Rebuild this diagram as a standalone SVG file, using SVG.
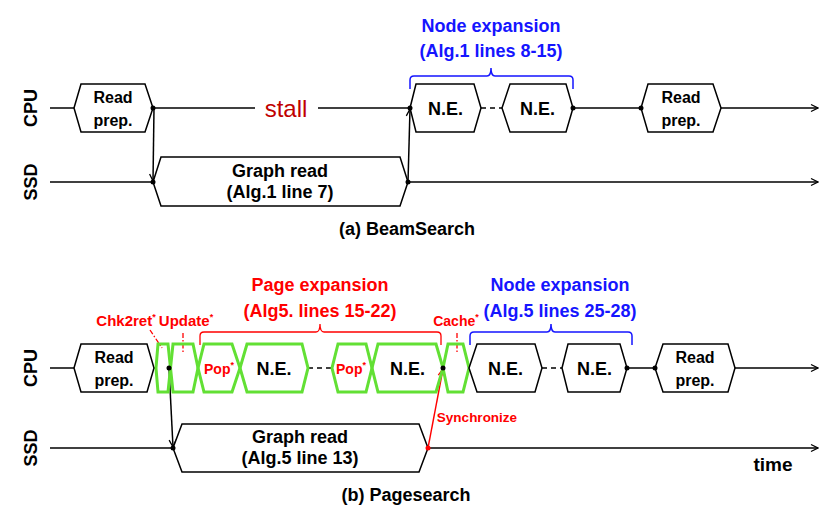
<svg xmlns="http://www.w3.org/2000/svg" width="830" height="521" viewBox="0 0 830 521">
<defs>
<marker id="ah" markerWidth="10" markerHeight="10" refX="9" refY="5" orient="auto" markerUnits="userSpaceOnUse"><path d="M2,1.5 L9,5 L2,8.5" fill="none" stroke="#000" stroke-width="1.3"/></marker>
<marker id="ahr" markerWidth="10" markerHeight="10" refX="9" refY="5" orient="auto" markerUnits="userSpaceOnUse"><path d="M2,1.5 L9,5 L2,8.5" fill="none" stroke="#FF0000" stroke-width="1.3"/></marker>
</defs>
<style>
.ln{stroke:#000;stroke-width:1.5;fill:none}
.ds{stroke:#000;stroke-width:1.5;fill:none;stroke-dasharray:5 4}
.hx{fill:#fff;stroke:#000;stroke-width:1.5}
.gr{fill:none;stroke:#62E034;stroke-width:3;stroke-linejoin:miter}
.t{font-family:"Liberation Sans",Arial,sans-serif;font-weight:bold;text-anchor:middle;fill:#000}
.s16{font-size:16px}
.s18{font-size:18px}
.red{fill:#FF0000}
.blue{fill:#1515FF}
.sup{font-size:9px}
.dot{fill:#000}
.rdash{stroke:#FF0000;stroke-width:1.3;fill:none;stroke-dasharray:5 2 1.5 2}
</style>

<g id="labels">
<text class="t s18" transform="translate(37,108) rotate(-90)">CPU</text>
<text class="t s18" transform="translate(37,182) rotate(-90)">SSD</text>
<text class="t s18" transform="translate(37,368) rotate(-90)">CPU</text>
<text class="t s18" transform="translate(37,448) rotate(-90)">SSD</text>
</g>

<g id="connectors">
<!-- top CPU -->
<line class="ln" x1="50" y1="108" x2="74" y2="108"/>
<line class="ln" x1="153" y1="108" x2="255" y2="108"/>
<line class="ln" x1="318" y1="108" x2="410" y2="108"/>
<line class="ds" x1="481" y1="108" x2="502" y2="108"/>
<line class="ln" x1="573" y1="108" x2="641" y2="108"/>
<line class="ln" x1="721" y1="108" x2="818" y2="108" marker-end="url(#ah)"/>
<!-- top SSD -->
<line class="ln" x1="50" y1="182" x2="153" y2="182"/>
<line class="ln" x1="408" y1="182" x2="818" y2="182" marker-end="url(#ah)"/>
<line class="ln" x1="154" y1="108" x2="153" y2="181" marker-end="url(#ah)"/>
<line class="ln" x1="408" y1="182" x2="410" y2="109" marker-end="url(#ah)"/>
<!-- bottom CPU -->
<line class="ln" x1="50" y1="368" x2="74" y2="368"/>
<line class="ln" x1="154" y1="368" x2="156" y2="368"/>
<line class="ds" x1="308" y1="368" x2="332" y2="368"/>
<line class="ds" x1="542" y1="368" x2="562" y2="368"/>
<line class="ln" x1="627" y1="368" x2="655" y2="368"/>
<line class="ln" x1="735" y1="368" x2="818" y2="368" marker-end="url(#ah)"/>
<!-- bottom SSD -->
<line class="ln" x1="50" y1="448" x2="173" y2="448"/>
<line class="ln" x1="428" y1="448" x2="818" y2="448" marker-end="url(#ah)"/>
<line class="ln" x1="169" y1="368" x2="173" y2="447" marker-end="url(#ah)"/>
<line x1="428" y1="448" x2="443" y2="369" stroke="#FF0000" stroke-width="1.4" marker-end="url(#ahr)"/>
<!-- braces -->
<path d="M410,89 L410,80 Q410,76 414,76 L487,76 Q491,76 491,68 Q491,76 495,76 L569,76 Q573,76 573,80 L573,89" fill="none" stroke="#1515FF" stroke-width="1.5"/>
<path d="M200,345 L200,336 Q200,332 204,332 L316,332 Q320,332 320,324 Q320,332 324,332 L437,332 Q441,332 441,336 L441,345" fill="none" stroke="#FF0000" stroke-width="1.3"/>
<path d="M470,345 L470,336 Q470,332 474,332 L547,332 Q551,332 551,324 Q551,332 555,332 L628,332 Q632,332 632,336 L632,345" fill="none" stroke="#1515FF" stroke-width="1.5"/>
<!-- red dashed pointers -->
<line class="rdash" x1="150" y1="330" x2="162" y2="348"/>
<line class="rdash" x1="183" y1="333" x2="183" y2="354"/>
<line class="rdash" x1="457" y1="333" x2="457" y2="354"/>
</g>

<g id="readprep-a1"><polygon class="hx" points="74,108 81,84 145,84 153,108 145,132 81,132"/>
<text class="t s16" x="113" y="103">Read</text><text class="t s16" x="113" y="126">prep.</text></g>
<g id="ne-a1"><polygon class="hx" points="410,108 416,84 474,84 481,108 474,132 416,132"/>
<text class="t s18" x="445.5" y="115">N.E.</text></g>
<g id="ne-a2"><polygon class="hx" points="502,108 510,84 566,84 573,108 566,132 510,132"/>
<text class="t s18" x="537.5" y="115">N.E.</text></g>
<g id="readprep-a2"><polygon class="hx" points="641,108 648,84 713,84 721,108 713,132 648,132"/>
<text class="t s16" x="681" y="103">Read</text><text class="t s16" x="681" y="126">prep.</text></g>
<g id="graphread-a"><polygon class="hx" points="153,182 161,157 400,157 408,182 400,206 161,206"/>
<text class="t s18" x="280" y="177">Graph read</text><text class="t s18" x="280" y="198">(Alg.1 line 7)</text></g>
<g id="stall"><text x="286" y="117" font-family="Liberation Sans, Arial, sans-serif" font-size="24" text-anchor="middle" fill="#C00000">stall</text></g>
<g id="nodeexp-a"><text class="t s18 blue" x="491" y="32">Node expansion</text><text class="t s18 blue" x="491" y="57">(Alg.1 lines 8-15)</text></g>
<g id="caption-a"><text class="t s18" x="407" y="235">(a) BeamSearch</text></g>

<g id="readprep-b1"><polygon class="hx" points="74,368 81,344 147,344 154,368 147,392 81,392"/>
<text class="t s16" x="114" y="363">Read</text><text class="t s16" x="114" y="386">prep.</text></g>
<g id="chk2ret"><polygon class="gr" points="158,344 168,344 170.5,368 168,392 158,392 156,368"/>
<text class="t red" font-size="15" x="126" y="326">Chk2ret<tspan class="sup" dy="-6">*</tspan></text></g>
<g id="update"><polygon class="gr" points="173,344 193,344 198,368 193,392 173,392 170.5,368"/>
<text class="t red" font-size="15" x="186" y="326">Update<tspan class="sup" dy="-6">*</tspan></text></g>
<g id="pop1"><polygon class="gr" points="204,344 232,344 240,368 232,392 204,392 198,368"/>
<text class="t red" font-size="14" x="219" y="374">Pop<tspan class="sup" dy="-6">*</tspan></text></g>
<g id="ne-b1"><polygon class="gr" points="247,344 302,344 308,368 302,392 247,392 240,368"/>
<text class="t s18" x="274" y="375">N.E.</text></g>
<g id="pop2"><polygon class="gr" points="338,344 366,344 372,368 366,392 338,392 332,368"/>
<text class="t red" font-size="14" x="351" y="374">Pop<tspan class="sup" dy="-6">*</tspan></text></g>
<g id="ne-b2"><polygon class="gr" points="378,344 436,344 443,368 436,392 378,392 372,368"/>
<text class="t s18" x="407.5" y="375">N.E.</text></g>
<g id="cache"><polygon class="gr" points="448,344 463,344 469,368 463,392 448,392 443,368"/>
<text class="t red" font-size="14" x="456" y="326">Cache<tspan class="sup" dy="-6">*</tspan></text></g>
<g id="ne-b3"><polygon class="hx" points="469,368 477,344 535,344 542,368 535,392 477,392"/>
<text class="t s18" x="505.5" y="375">N.E.</text></g>
<g id="ne-b4"><polygon class="hx" points="562,368 568,344 620,344 627,368 620,392 568,392"/>
<text class="t s18" x="594.5" y="375">N.E.</text></g>
<g id="readprep-b2"><polygon class="hx" points="655,368 663,344 728,344 735,368 728,392 663,392"/>
<text class="t s16" x="695" y="363">Read</text><text class="t s16" x="695" y="386">prep.</text></g>
<g id="graphread-b"><polygon class="hx" points="173,448 182,424 419,424 428,448 419,472 182,472"/>
<text class="t s18" x="300" y="443">Graph read</text><text class="t s18" x="300" y="464">(Alg.5 line 13)</text></g>
<g id="pageexp"><text class="t s18 red" x="320" y="291">Page expansion</text><text class="t s18 red" x="320" y="317">(Alg5. lines 15-22)</text></g>
<g id="nodeexp-b"><text class="t s18 blue" x="560" y="291">Node expansion</text><text class="t s18 blue" x="560" y="317">(Alg.5 lines 25-28)</text></g>
<g id="sync"><text class="t red" font-size="13.5" x="477" y="422">Synchronize</text></g>
<g id="time"><text class="t" font-size="19" x="773" y="471">time</text></g>
<g id="caption-b"><text class="t s18" x="406" y="501">(b) Pagesearch</text></g>

<g id="dots">
<circle class="dot" cx="153" cy="108" r="2.5"/>
<circle class="dot" cx="153" cy="182" r="2.5"/>
<circle class="dot" cx="408" cy="182" r="2.5"/>
<circle class="dot" cx="410" cy="108" r="2.5"/>
<circle class="dot" cx="573" cy="108" r="2.5"/>
<circle class="dot" cx="641" cy="108" r="2.5"/>
<circle class="dot" cx="169" cy="368" r="2.5"/>
<circle class="dot" cx="173" cy="448" r="2.5"/>
<circle cx="428" cy="448" r="2.5" fill="#FF0000"/>
<circle class="dot" cx="443" cy="368" r="2.5"/>
<circle class="dot" cx="627" cy="368" r="2.5"/>
<circle class="dot" cx="655" cy="368" r="2.5"/>
</g>
</svg>
